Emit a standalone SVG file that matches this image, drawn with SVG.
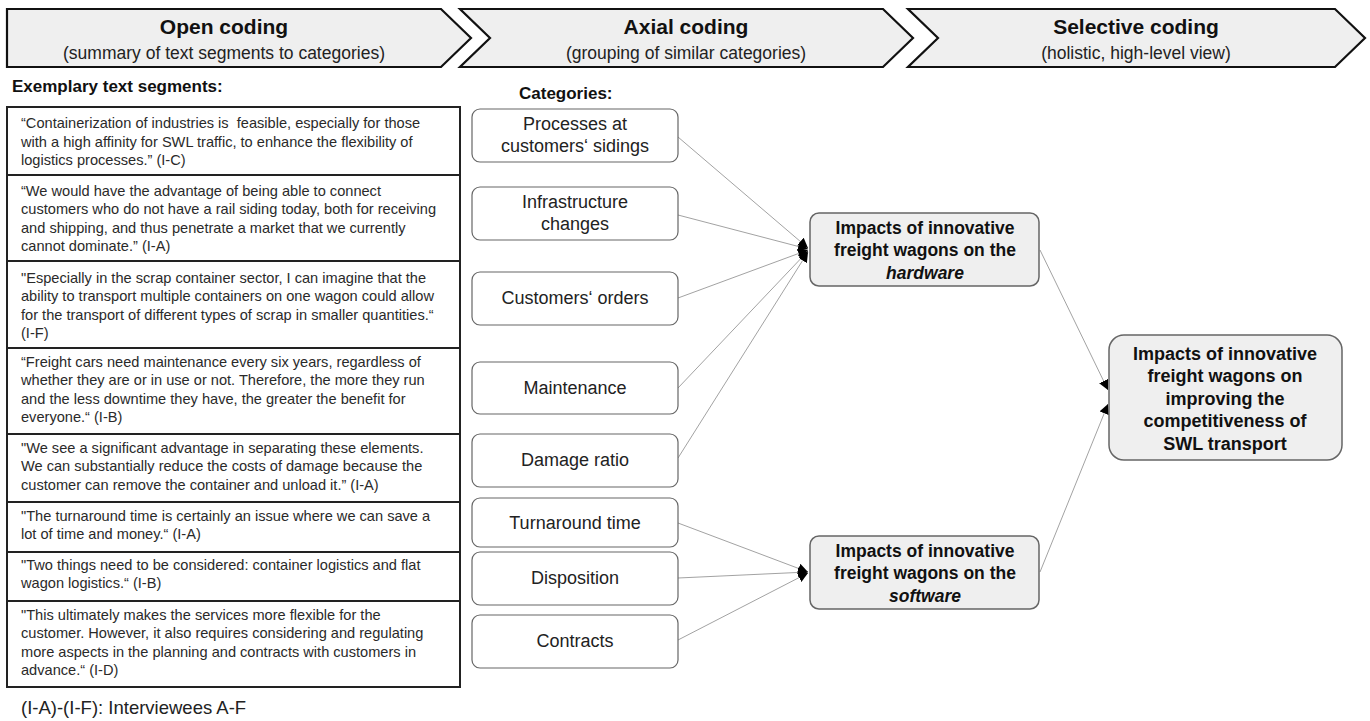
<svg xmlns="http://www.w3.org/2000/svg" width="1370" height="721" viewBox="0 0 1370 721">
<defs>
<style>
.chev{fill:#efefef;stroke:#111;stroke-width:2.2;stroke-linejoin:miter}
.h1{font-family:"Liberation Sans",Arial,sans-serif;font-weight:bold;font-size:21px;fill:#111;text-anchor:middle}
.h2{font-family:"Liberation Sans",Arial,sans-serif;font-size:17.5px;fill:#222;text-anchor:middle}
.lbl{font-family:"Liberation Sans",Arial,sans-serif;font-weight:bold;font-size:17px;fill:#111}
.seg{fill:#fff;stroke:#222;stroke-width:2}
.q{font-family:"Liberation Sans",Arial,sans-serif;font-size:14.6px;fill:#2a2a2a}
.cat{fill:#fff;stroke:#666;stroke-width:1.2}
.ct{font-family:"Liberation Sans",Arial,sans-serif;font-size:18px;fill:#222;text-anchor:middle}
.grp{fill:#efefef;stroke:#666;stroke-width:1.5}
.gt{font-family:"Liberation Sans",Arial,sans-serif;font-weight:bold;font-size:17.5px;fill:#111;text-anchor:middle}
.ft{font-family:"Liberation Sans",Arial,sans-serif;font-weight:bold;font-size:18px;fill:#111;text-anchor:middle}
.con{stroke:#8a8a8a;stroke-width:0.8;fill:none;marker-end:url(#ah)}
.foot{font-family:"Liberation Sans",Arial,sans-serif;font-size:18.5px;fill:#222}
</style>
<marker id="ah" viewBox="0 0 10 10" refX="10" refY="5" markerWidth="10" markerHeight="10" markerUnits="userSpaceOnUse" orient="auto">
<path d="M0,0 L10,5 L0,10 Z" fill="#000"/>
</marker>
</defs>

<g id="header-open">
<path class="chev" d="M7,9 L441,9 L471,38 L441,67 L7,67 Z"/>
<text class="h1" x="224" y="34">Open coding</text>
<text class="h2" x="224" y="59">(summary of text segments to categories)</text>
</g>
<g id="header-axial">
<path class="chev" d="M460,9 L883,9 L913,38 L883,67 L460,67 L490,38 Z"/>
<text class="h1" x="686" y="34">Axial coding</text>
<text class="h2" x="686" y="59">(grouping of similar categories)</text>
</g>
<g id="header-selective">
<path class="chev" d="M908,9 L1335,9 L1365,38 L1335,67 L908,67 L938,38 Z"/>
<text class="h1" x="1136" y="34">Selective coding</text>
<text class="h2" x="1136" y="59">(holistic, high-level view)</text>
</g>

<text class="lbl" x="12" y="92">Exemplary text segments:</text>
<text class="lbl" x="519" y="99">Categories:</text>

<g id="segments">
<rect class="seg" x="7" y="107" width="453" height="580"/>
<g id="seg1">
<text class="q" xml:space="preserve"><tspan x="21" y="128">“Containerization of industries is  feasible, especially for those</tspan><tspan x="21" y="147">with a high affinity for SWL traffic, to enhance the flexibility of</tspan><tspan x="21" y="165">logistics processes.” (I-C)</tspan></text>
</g>
<line x1="7" y1="175" x2="460" y2="175" stroke="#222" stroke-width="2"/>
<g id="seg2">
<text class="q"><tspan x="21" y="196">“We would have the advantage of being able to connect</tspan><tspan x="21" y="214">customers who do not have a rail siding today, both for receiving</tspan><tspan x="21" y="233">and shipping, and thus penetrate a market that we currently</tspan><tspan x="21" y="251">cannot dominate.” (I-A)</tspan></text>
</g>
<line x1="7" y1="261" x2="460" y2="261" stroke="#222" stroke-width="2"/>
<g id="seg3">
<text class="q"><tspan x="21" y="283">"Especially in the scrap container sector, I can imagine that the</tspan><tspan x="21" y="301">ability to transport multiple containers on one wagon could allow</tspan><tspan x="21" y="320">for the transport of different types of scrap in smaller quantities.“</tspan><tspan x="21" y="338">(I-F)</tspan></text>
</g>
<line x1="7" y1="348" x2="460" y2="348" stroke="#222" stroke-width="2"/>
<g id="seg4">
<text class="q"><tspan x="21" y="367">“Freight cars need maintenance every six years, regardless of</tspan><tspan x="21" y="385">whether they are or in use or not. Therefore, the more they run</tspan><tspan x="21" y="404">and the less downtime they have, the greater the benefit for</tspan><tspan x="21" y="422">everyone.“ (I-B)</tspan></text>
</g>
<line x1="7" y1="434" x2="460" y2="434" stroke="#222" stroke-width="2"/>
<g id="seg5">
<text class="q"><tspan x="21" y="453">"We see a significant advantage in separating these elements.</tspan><tspan x="21" y="471">We can substantially reduce the costs of damage because the</tspan><tspan x="21" y="490">customer can remove the container and unload it.” (I-A)</tspan></text>
</g>
<line x1="7" y1="502" x2="460" y2="502" stroke="#222" stroke-width="2"/>
<g id="seg6">
<text class="q"><tspan x="21" y="521">"The turnaround time is certainly an issue where we can save a</tspan><tspan x="21" y="539">lot of time and money.“ (I-A)</tspan></text>
</g>
<line x1="7" y1="552" x2="460" y2="552" stroke="#222" stroke-width="2"/>
<g id="seg7">
<text class="q"><tspan x="21" y="570">"Two things need to be considered: container logistics and flat</tspan><tspan x="21" y="588">wagon logistics.“ (I-B)</tspan></text>
</g>
<line x1="7" y1="601" x2="460" y2="601" stroke="#222" stroke-width="2"/>
<g id="seg8">
<text class="q"><tspan x="21" y="620">"This ultimately makes the services more flexible for the</tspan><tspan x="21" y="638">customer. However, it also requires considering and regulating</tspan><tspan x="21" y="657">more aspects in the planning and contracts with customers in</tspan><tspan x="21" y="675">advance.“ (I-D)</tspan></text>
</g>
</g>

<text class="foot" x="21" y="714">(I-A)-(I-F): Interviewees A-F</text>

<g id="connectors">
<line class="con" x1="678" y1="137" x2="808" y2="248"/>
<line class="con" x1="678" y1="215" x2="808" y2="249"/>
<line class="con" x1="678" y1="298" x2="808" y2="250"/>
<line class="con" x1="678" y1="388" x2="808" y2="251"/>
<line class="con" x1="678" y1="458" x2="808" y2="252"/>
<line class="con" x1="678" y1="523" x2="808" y2="572"/>
<line class="con" x1="678" y1="578" x2="808" y2="572"/>
<line class="con" x1="678" y1="640" x2="808" y2="573"/>
<line class="con" x1="1040" y1="250" x2="1108" y2="390"/>
<line class="con" x1="1040" y1="572" x2="1108" y2="404"/>
</g>

<g id="cat-processes">
<rect class="cat" x="472" y="109" width="206" height="53" rx="8"/>
<text class="ct" x="575" y="130">Processes at</text>
<text class="ct" x="575" y="152">customers‘ sidings</text>
</g>
<g id="cat-infrastructure">
<rect class="cat" x="472" y="187" width="206" height="53" rx="8"/>
<text class="ct" x="575" y="208">Infrastructure</text>
<text class="ct" x="575" y="230">changes</text>
</g>
<g id="cat-orders">
<rect class="cat" x="472" y="272" width="206" height="53" rx="8"/>
<text class="ct" x="575" y="304">Customers‘ orders</text>
</g>
<g id="cat-maintenance">
<rect class="cat" x="472" y="362" width="206" height="52" rx="8"/>
<text class="ct" x="575" y="394">Maintenance</text>
</g>
<g id="cat-damage">
<rect class="cat" x="472" y="434" width="206" height="53" rx="8"/>
<text class="ct" x="575" y="466">Damage ratio</text>
</g>
<g id="cat-turnaround">
<rect class="cat" x="472" y="498" width="206" height="49" rx="8"/>
<text class="ct" x="575" y="529">Turnaround time</text>
</g>
<g id="cat-disposition">
<rect class="cat" x="472" y="552" width="206" height="53" rx="8"/>
<text class="ct" x="575" y="584">Disposition</text>
</g>
<g id="cat-contracts">
<rect class="cat" x="472" y="615" width="206" height="53" rx="8"/>
<text class="ct" x="575" y="647">Contracts</text>
</g>

<g id="grp-hardware">
<rect class="grp" x="810" y="213" width="229" height="73" rx="9"/>
<text class="gt" x="925" y="234">Impacts of innovative</text>
<text class="gt" x="925" y="256">freight wagons on the</text>
<text class="gt" x="925" y="279" font-style="italic">hardware</text>
</g>
<g id="grp-software">
<rect class="grp" x="810" y="536" width="229" height="73" rx="9"/>
<text class="gt" x="925" y="557">Impacts of innovative</text>
<text class="gt" x="925" y="579">freight wagons on the</text>
<text class="gt" x="925" y="602" font-style="italic">software</text>
</g>
<g id="final">
<rect class="grp" x="1109" y="335" width="233" height="125" rx="15"/>
<text class="ft" x="1225" y="360">Impacts of innovative</text>
<text class="ft" x="1225" y="382">freight wagons on</text>
<text class="ft" x="1225" y="405">improving the</text>
<text class="ft" x="1225" y="427">competitiveness of</text>
<text class="ft" x="1225" y="450">SWL transport</text>
</g>
</svg>
